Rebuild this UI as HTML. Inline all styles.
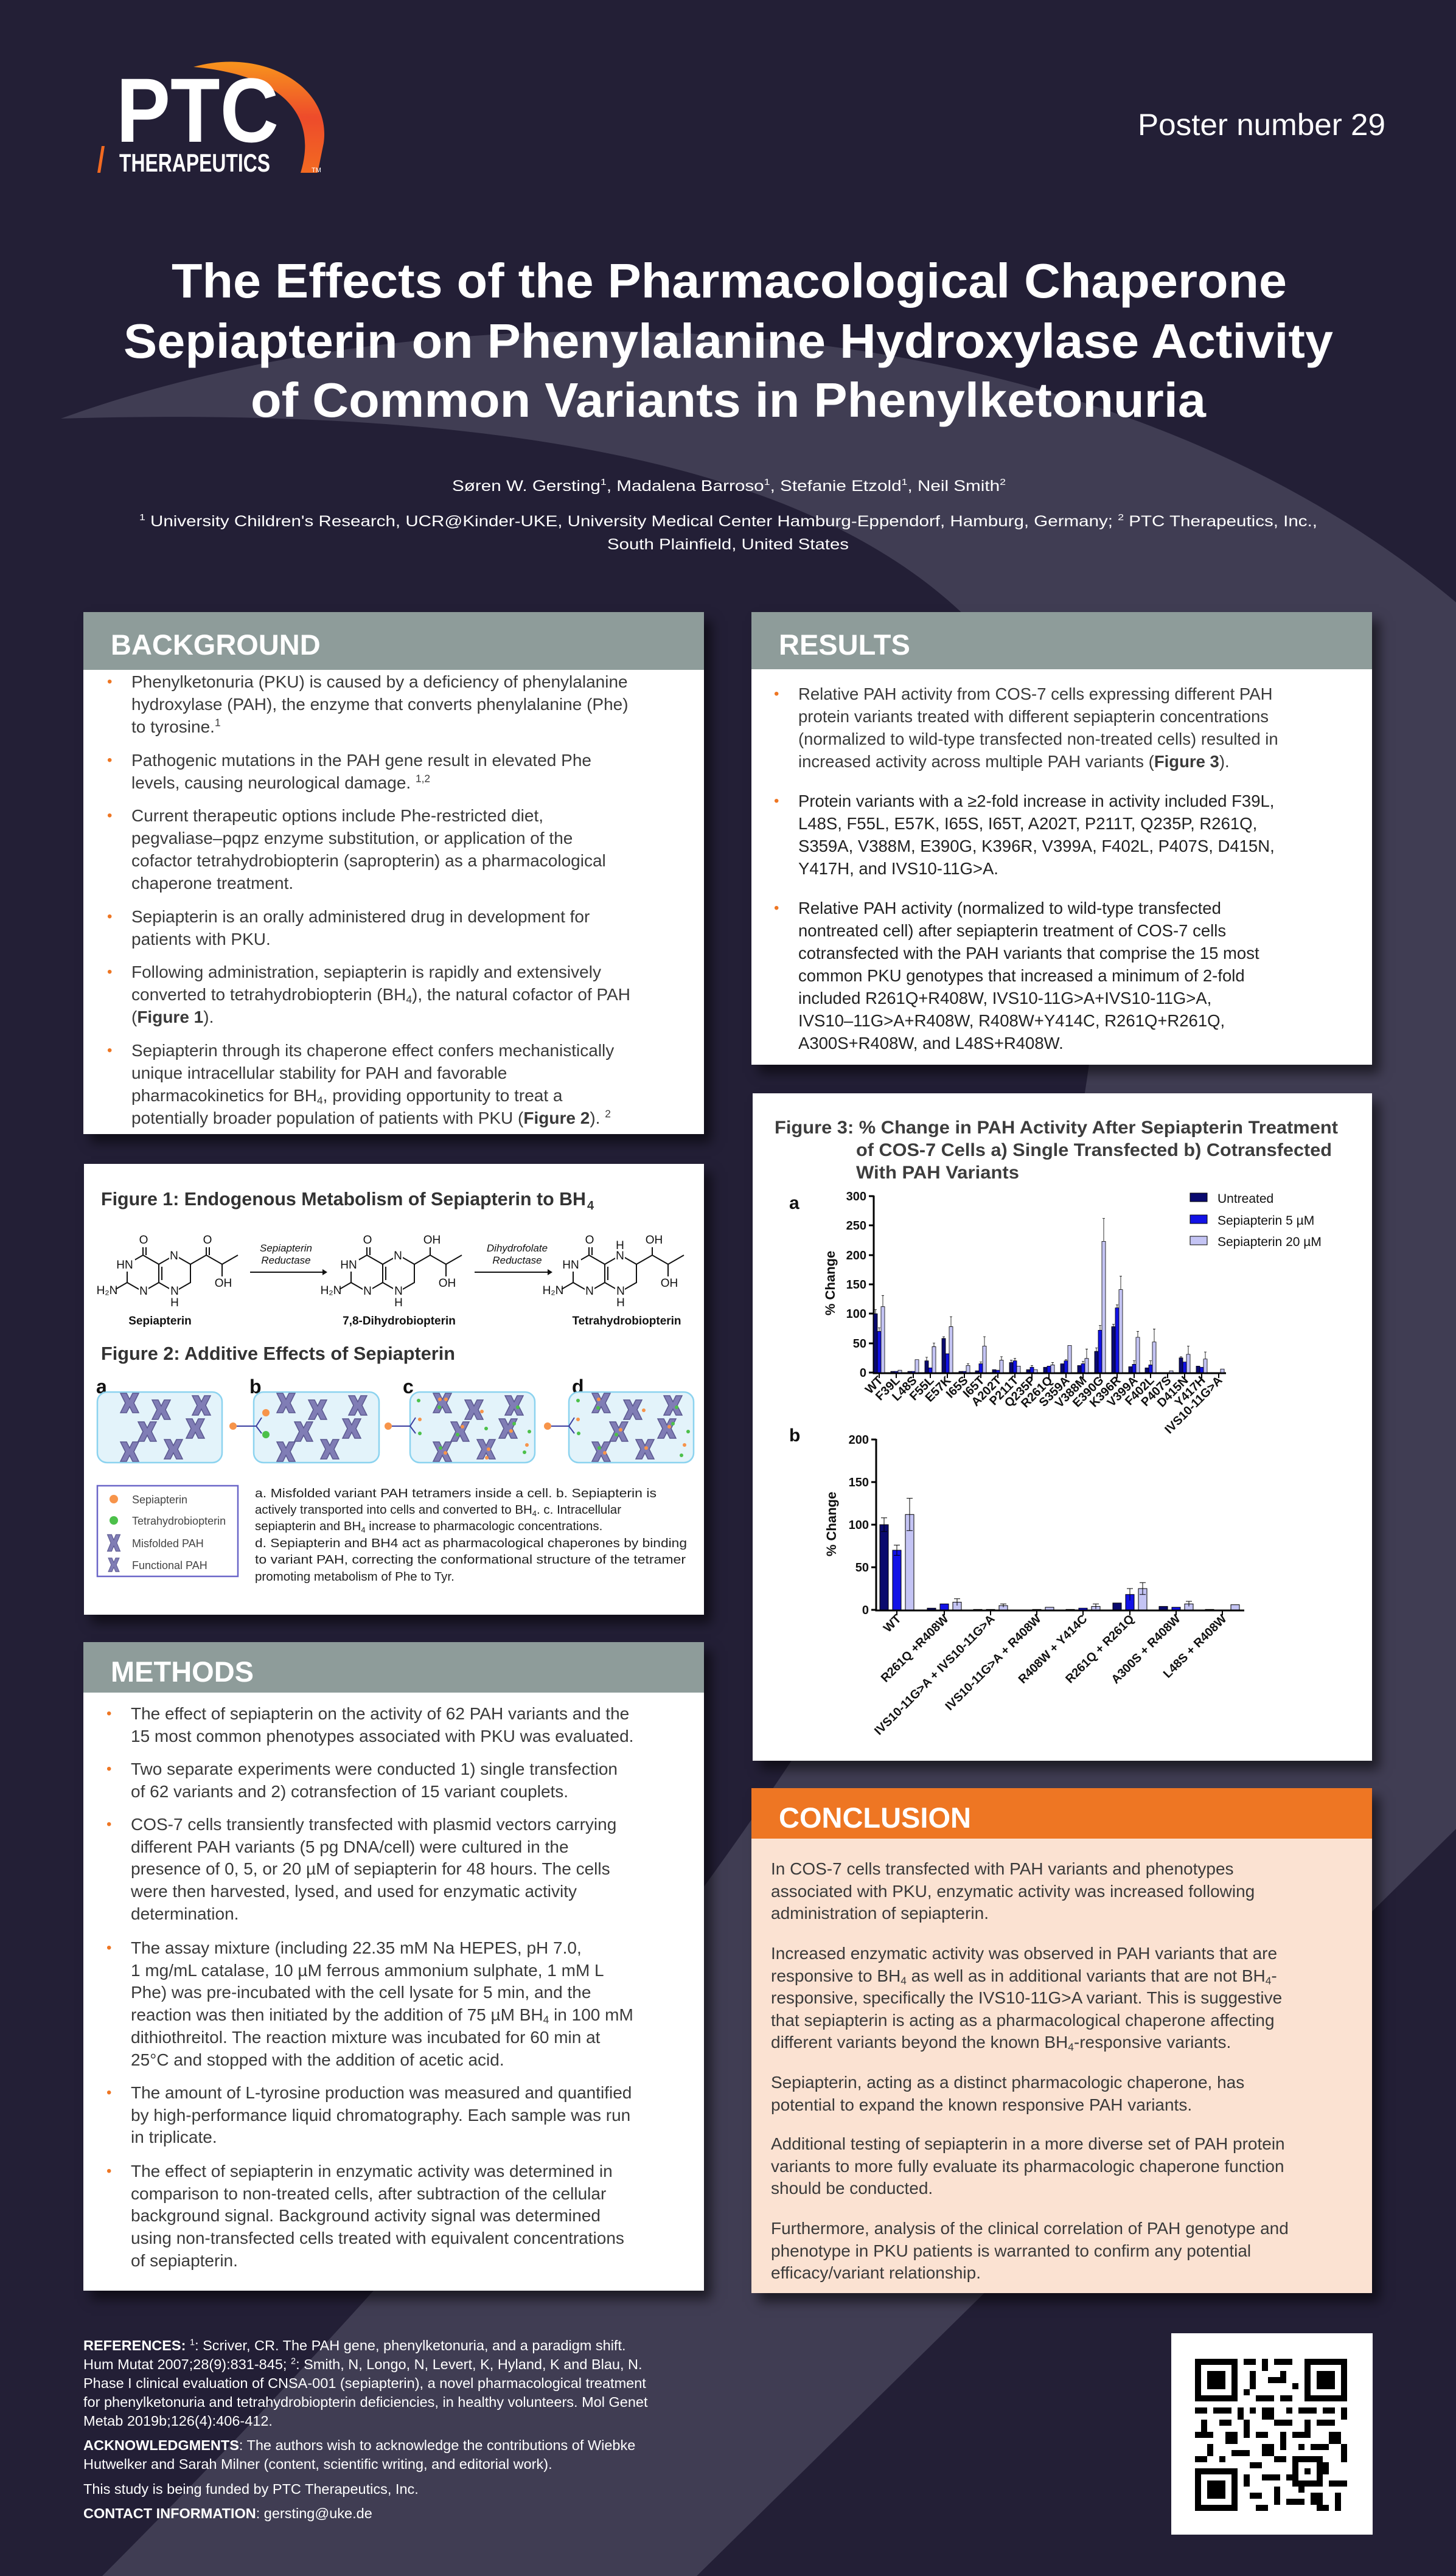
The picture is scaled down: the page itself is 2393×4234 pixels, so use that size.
<!DOCTYPE html>
<html><head><meta charset="utf-8">
<style>
*{margin:0;padding:0;box-sizing:border-box}
body{width:2393px;height:4234px;overflow:hidden;position:relative;background:#231f36;font-family:"Liberation Sans",Arial,sans-serif}
.abs{position:absolute}
.panel{position:absolute;background:#fff;box-shadow:12px 14px 18px rgba(0,0,0,0.55)}
.hdr{position:absolute;background:#8e9c9a;color:#fff;font-weight:bold;font-size:47px;line-height:1}
.hdr span{position:absolute;left:45px}
.p{position:absolute;font-size:28px;line-height:37px;color:#3a3a3a;white-space:nowrap}
.p::before{content:"•";color:#ee7623;position:absolute;left:-40px;top:0;font-size:24px}
.np::before{content:none}
sub{font-size:0.62em;vertical-align:-0.25em;line-height:0}
sup{font-size:0.62em;vertical-align:0.6em;line-height:0}
.ref{position:absolute;left:137px;font-size:23.5px;line-height:31px;color:#fff;white-space:nowrap}
</style></head><body>

<svg class="abs" style="left:0;top:0" width="2393" height="4234">
<path d="M100,688 C700,470 1750,450 2393,990 L2393,3006 L1145,4234 L168,4234 C900,3500 1850,2400 1800,1500 C1760,1000 1400,650 100,688 Z" fill="#403d53"/>
</svg>

<!-- BACKGROUND -->
<div class="panel" style="left:137px;top:1006px;width:1020px;height:858px"></div>
<div class="hdr" style="left:137px;top:1006px;width:1020px;height:95px"><span style="top:30px">BACKGROUND</span></div>
<div class="p" style="left:216px;top:1102px">Phenylketonuria (PKU) is caused by a deficiency of phenylalanine<br>hydroxylase (PAH), the enzyme that converts phenylalanine (Phe)<br>to tyrosine.<sup>1</sup></div>
<div class="p" style="left:216px;top:1231px">Pathogenic mutations in the PAH gene result in elevated Phe<br>levels, causing neurological damage. <sup>1,2</sup></div>
<div class="p" style="left:216px;top:1322px">Current therapeutic options include Phe-restricted diet,<br>pegvaliase–pqpz enzyme substitution, or application of the<br>cofactor tetrahydrobiopterin (sapropterin) as a pharmacological<br>chaperone treatment.</div>
<div class="p" style="left:216px;top:1488px">Sepiapterin is an orally administered drug in development for<br>patients with PKU.</div>
<div class="p" style="left:216px;top:1579px">Following administration, sepiapterin is rapidly and extensively<br>converted to tetrahydrobiopterin (BH<sub>4</sub>), the natural cofactor of PAH<br>(<b>Figure 1</b>).</div>
<div class="p" style="left:216px;top:1708px">Sepiapterin through its chaperone effect confers mechanistically<br>unique intracellular stability for PAH and favorable<br>pharmacokinetics for BH<sub>4</sub>, providing opportunity to treat a<br>potentially broader population of patients with PKU (<b>Figure 2</b>). <sup>2</sup></div>

<!-- RESULTS -->
<div class="panel" style="left:1235px;top:1006px;width:1020px;height:744px"></div>
<div class="hdr" style="left:1235px;top:1006px;width:1020px;height:94px"><span style="top:30px">RESULTS</span></div>
<div class="p" style="left:1312px;top:1122px;font-size:27.5px">Relative PAH activity from COS-7 cells expressing different PAH<br>protein variants treated with different sepiapterin concentrations<br>(normalized to wild-type transfected non-treated cells) resulted in<br>increased activity across multiple PAH variants (<b>Figure 3</b>).</div>
<div class="p" style="left:1312px;top:1298px;font-size:27.5px;color:#222">Protein variants with a ≥2-fold increase in activity included F39L,<br>L48S, F55L, E57K, I65S, I65T, A202T, P211T, Q235P, R261Q,<br>S359A, V388M, E390G, K396R, V399A, F402L, P407S, D415N,<br>Y417H, and IVS10-11G&gt;A.</div>
<div class="p" style="left:1312px;top:1474px;font-size:27.5px;color:#222">Relative PAH activity (normalized to wild-type transfected<br>nontreated cell) after sepiapterin treatment of COS-7 cells<br>cotransfected with the PAH variants that comprise the 15 most<br>common PKU genotypes that increased a minimum of 2-fold<br>included R261Q+R408W, IVS10-11G&gt;A+IVS10-11G&gt;A,<br>IVS10–11G&gt;A+R408W, R408W+Y414C, R261Q+R261Q,<br>A300S+R408W, and L48S+R408W.</div>

<!-- FIG 1/2 panel -->
<div class="panel" style="left:138px;top:1913px;width:1019px;height:741px"></div>
<!-- FIG 3 panel -->
<div class="panel" style="left:1237px;top:1797px;width:1018px;height:1097px"></div>

<!-- METHODS -->
<div class="panel" style="left:137px;top:2699px;width:1020px;height:1066px"></div>
<div class="hdr" style="left:137px;top:2699px;width:1020px;height:83px"><span style="top:25px">METHODS</span></div>
<div class="p" style="left:215px;top:2799px;line-height:36.7px">The effect of sepiapterin on the activity of 62 PAH variants and the<br>15 most common phenotypes associated with PKU was evaluated.</div>
<div class="p" style="left:215px;top:2890px;line-height:36.7px">Two separate experiments were conducted 1) single transfection<br>of 62 variants and 2) cotransfection of 15 variant couplets.</div>
<div class="p" style="left:215px;top:2981px;line-height:36.7px">COS-7 cells transiently transfected with plasmid vectors carrying<br>different PAH variants (5 pg DNA/cell) were cultured in the<br>presence of 0, 5, or 20 µM of sepiapterin for 48 hours. The cells<br>were then harvested, lysed, and used for enzymatic activity<br>determination.</div>
<div class="p" style="left:215px;top:3184px;line-height:36.7px">The assay mixture (including 22.35 mM Na HEPES, pH 7.0,<br>1 mg/mL catalase, 10 µM ferrous ammonium sulphate, 1 mM L<br>Phe) was pre-incubated with the cell lysate for 5 min, and the<br>reaction was then initiated by the addition of 75 µM BH<sub>4</sub> in 100 mM<br>dithiothreitol. The reaction mixture was incubated for 60 min at<br>25°C and stopped with the addition of acetic acid.</div>
<div class="p" style="left:215px;top:3422px;line-height:36.7px">The amount of L-tyrosine production was measured and quantified<br>by high-performance liquid chromatography. Each sample was run<br>in triplicate.</div>
<div class="p" style="left:215px;top:3551px;line-height:36.7px">The effect of sepiapterin in enzymatic activity was determined in<br>comparison to non-treated cells, after subtraction of the cellular<br>background signal. Background activity signal was determined<br>using non-transfected cells treated with equivalent concentrations<br>of sepiapterin.</div>

<!-- CONCLUSION -->
<div class="panel" style="left:1235px;top:2939px;width:1020px;height:830px;background:#fbe2d2"></div>
<div class="hdr" style="left:1235px;top:2939px;width:1020px;height:83px;background:#ee7623"><span style="top:25px">CONCLUSION</span></div>
<div class="p np" style="left:1267px;top:3054px;line-height:36.5px">In COS-7 cells transfected with PAH variants and phenotypes<br>associated with PKU, enzymatic activity was increased following<br>administration of sepiapterin.</div>
<div class="p np" style="left:1267px;top:3193px;line-height:36.5px">Increased enzymatic activity was observed in PAH variants that are<br>responsive to BH<sub>4</sub> as well as in additional variants that are not BH<sub>4</sub>-<br>responsive, specifically the IVS10-11G&gt;A variant. This is suggestive<br>that sepiapterin is acting as a pharmacological chaperone affecting<br>different variants beyond the known BH<sub>4</sub>-responsive variants.</div>
<div class="p np" style="left:1267px;top:3405px;line-height:36.5px">Sepiapterin, acting as a distinct pharmacologic chaperone, has<br>potential to expand the known responsive PAH variants.</div>
<div class="p np" style="left:1267px;top:3506px;line-height:36.5px">Additional testing of sepiapterin in a more diverse set of PAH protein<br>variants to more fully evaluate its pharmacologic chaperone function<br>should be conducted.</div>
<div class="p np" style="left:1267px;top:3645px;line-height:36.5px">Furthermore, analysis of the clinical correlation of PAH genotype and<br>phenotype in PKU patients is warranted to confirm any potential<br>efficacy/variant relationship.</div>

<!-- REFERENCES -->
<div class="ref" style="top:3840px"><b>REFERENCES:</b> <sup>1</sup>: Scriver, CR. The PAH gene, phenylketonuria, and a paradigm shift.<br>Hum Mutat 2007;28(9):831-845; <sup>2</sup>: Smith, N, Longo, N, Levert, K, Hyland, K and Blau, N.<br>Phase I clinical evaluation of CNSA-001 (sepiapterin), a novel pharmacological treatment<br>for phenylketonuria and tetrahydrobiopterin deficiencies, in healthy volunteers. Mol Genet<br>Metab 2019b;126(4):406-412.</div>
<div class="ref" style="top:4004px"><b>ACKNOWLEDGMENTS</b>: The authors wish to acknowledge the contributions of Wiebke<br>Hutwelker and Sarah Milner (content, scientific writing, and editorial work).</div>
<div class="ref" style="top:4076px">This study is being funded by PTC Therapeutics, Inc.</div>
<div class="ref" style="top:4116px"><b>CONTACT INFORMATION</b>: gersting@uke.de</div>

<!-- OVERLAY -->
<svg class="abs" style="left:0;top:0" width="2393" height="4234" font-family="Liberation Sans, Arial, sans-serif">
<defs>
<linearGradient id="lg" x1="0" y1="0" x2="0" y2="1"><stop offset="0" stop-color="#f7941d"/><stop offset="0.5" stop-color="#ee4b2b"/><stop offset="1" stop-color="#f26a21"/></linearGradient>
<path id="xs" d="M-15,-16 L-5,-16 L0,-6 L5,-16 L15,-16 L7,0 L15,16 L5,16 L0,6 L-5,16 L-15,16 L-7,0 Z" fill="#807db5" stroke="#5b5890" stroke-width="1.5"/>
</defs>
<!-- logo -->
<path d="M318,110 C430,78 545,140 532,235 L522,284 L494,284 C520,200 480,125 318,110 Z" fill="url(#lg)"/>
<path d="M160,284 L167,240 L172,240 L165,284 Z" fill="#f26a21"/>
<text x="191" y="233" font-size="150" font-weight="bold" fill="#fff" textLength="267" lengthAdjust="spacingAndGlyphs">PTC</text>
<text x="196" y="282" font-size="42" font-weight="bold" fill="#fff" textLength="248" lengthAdjust="spacingAndGlyphs">THERAPEUTICS</text>
<text x="512" y="283" font-size="11" fill="#fff">TM</text>
<text x="1870" y="222" font-size="50" fill="#fff" textLength="407" lengthAdjust="spacingAndGlyphs">Poster number 29</text>
<!-- title -->
<g font-weight="bold" fill="#fff" font-size="80">
<text x="282" y="489" textLength="1833" lengthAdjust="spacingAndGlyphs">The Effects of the Pharmacological Chaperone</text>
<text x="203" y="588" textLength="1988" lengthAdjust="spacingAndGlyphs">Sepiapterin on Phenylalanine Hydroxylase Activity</text>
<text x="412" y="685" textLength="1570" lengthAdjust="spacingAndGlyphs">of Common Variants in Phenylketonuria</text>
</g>
<g fill="#fff" font-size="25">
<text x="743" y="807" textLength="910" lengthAdjust="spacingAndGlyphs">Søren W. Gersting<tspan font-size="15" dy="-10">1</tspan><tspan dy="10">, Madalena Barroso</tspan><tspan font-size="15" dy="-10">1</tspan><tspan dy="10">, Stefanie Etzold</tspan><tspan font-size="15" dy="-10">1</tspan><tspan dy="10">, Neil Smith</tspan><tspan font-size="15" dy="-10">2</tspan></text>
<text x="229" y="865" textLength="1936" lengthAdjust="spacingAndGlyphs"><tspan font-size="15" dy="-10">1</tspan><tspan dy="10"> University Children's Research, UCR@Kinder-UKE, University Medical Center Hamburg-Eppendorf, Hamburg, Germany; </tspan><tspan font-size="15" dy="-10">2</tspan><tspan dy="10"> PTC Therapeutics, Inc.,</tspan></text>
<text x="998" y="903" textLength="397" lengthAdjust="spacingAndGlyphs">South Plainfield, United States</text>
</g>

<!-- FIGURE 1 -->
<g fill="#333" font-weight="bold">
<text x="166" y="1981" font-size="31" textLength="797" lengthAdjust="spacingAndGlyphs">Figure 1: Endogenous Metabolism of Sepiapterin to BH</text><text x="965" y="1988" font-size="20">4</text>
<text x="166" y="2235" font-size="31" textLength="582" lengthAdjust="spacingAndGlyphs">Figure 2: Additive Effects of Sepiapterin</text>
</g>
<!-- structures -->
<g stroke="#111" stroke-width="2" fill="none">
 <g id="s1">
 <path d="M235,2063 L261,2078 L261,2108 L235,2123 L209,2108 L209,2078 Z M261,2078 L287,2063 L313,2078 L313,2108 L287,2123 L261,2108 M235,2063 L235,2042 M240,2063 L240,2042 M209,2108 L190,2119 M266,2082 L266,2104 M313,2078 L339,2063 L365,2078 L391,2063 M339,2063 L339,2042 M344,2063 L344,2042 M365,2078 L365,2098"/>
 </g>
 <path transform="translate(368,0)" d="M235,2063 L261,2078 L261,2108 L235,2123 L209,2108 L209,2078 Z M261,2078 L287,2063 L313,2078 L313,2108 L287,2123 L261,2108 M235,2063 L235,2042 M240,2063 L240,2042 M209,2108 L190,2119 M266,2082 L266,2104 M313,2078 L339,2063 L365,2078 L391,2063 M339,2063 L339,2042 M365,2078 L365,2098"/>
 <path transform="translate(733,0)" d="M235,2063 L261,2078 L261,2108 L235,2123 L209,2108 L209,2078 Z M261,2078 L287,2063 L313,2078 L313,2108 L287,2123 L261,2108 M235,2063 L235,2042 M240,2063 L240,2042 M209,2108 L190,2119 M266,2082 L266,2104 M313,2078 L339,2063 L365,2078 L391,2063 M339,2063 L339,2042 M365,2078 L365,2098"/>
 <path d="M411,2091 L530,2091 M780,2091 L900,2091"/>
</g>
<path d="M530,2086 L538,2091 L530,2096 Z M900,2086 L908,2091 L900,2096 Z" fill="#111"/>
<g font-size="19" fill="#111" text-anchor="middle">
 <g>
 <rect x="227" y="2030" width="18" height="20" fill="#fff"/><text x="236" y="2044">O</text>
 <rect x="198" y="2070" width="24" height="20" fill="#fff"/><text x="205" y="2085">HN</text>
 <rect x="278" y="2055" width="16" height="18" fill="#fff"/><text x="286" y="2070">N</text>
 <rect x="228" y="2112" width="16" height="20" fill="#fff"/><text x="236" y="2128">N</text>
 <rect x="278" y="2112" width="16" height="20" fill="#fff"/><text x="287" y="2128">N</text><text x="287" y="2147">H</text>
 <text x="176" y="2127">H₂N</text>
 <rect x="332" y="2030" width="18" height="20" fill="#fff"/><text x="341" y="2044">O</text>
 <text x="367" y="2115">OH</text>
 </g>
 <g transform="translate(368,0)">
 <rect x="227" y="2030" width="18" height="20" fill="#fff"/><text x="236" y="2044">O</text>
 <rect x="198" y="2070" width="24" height="20" fill="#fff"/><text x="205" y="2085">HN</text>
 <rect x="278" y="2055" width="16" height="18" fill="#fff"/><text x="286" y="2070">N</text>
 <rect x="228" y="2112" width="16" height="20" fill="#fff"/><text x="236" y="2128">N</text>
 <rect x="278" y="2112" width="16" height="20" fill="#fff"/><text x="287" y="2128">N</text><text x="287" y="2147">H</text>
 <text x="176" y="2127">H₂N</text>
 <rect x="330" y="2030" width="26" height="20" fill="#fff"/><text x="342" y="2044">OH</text>
 <text x="367" y="2115">OH</text>
 </g>
 <g transform="translate(733,0)">
 <rect x="227" y="2030" width="18" height="20" fill="#fff"/><text x="236" y="2044">O</text>
 <rect x="198" y="2070" width="24" height="20" fill="#fff"/><text x="205" y="2085">HN</text>
 <rect x="278" y="2048" width="16" height="26" fill="#fff"/><text x="286" y="2070">N</text><text x="286" y="2053">H</text>
 <rect x="228" y="2112" width="16" height="20" fill="#fff"/><text x="236" y="2128">N</text>
 <rect x="278" y="2112" width="16" height="20" fill="#fff"/><text x="287" y="2128">N</text><text x="287" y="2147">H</text>
 <text x="176" y="2127">H₂N</text>
 <rect x="330" y="2030" width="26" height="20" fill="#fff"/><text x="342" y="2044">OH</text>
 <text x="367" y="2115">OH</text>
 </g>
 <g font-style="italic" font-size="17">
 <text x="470" y="2057">Sepiapterin</text><text x="470" y="2077">Reductase</text>
 <text x="850" y="2057">Dihydrofolate</text><text x="850" y="2077">Reductase</text>
 </g>
 <g font-weight="bold" font-size="19">
 <text x="263" y="2177">Sepiapterin</text>
 <text x="656" y="2177">7,8-Dihydrobiopterin</text>
 <text x="1030" y="2177">Tetrahydrobiopterin</text>
 </g>
</g>

<!-- FIGURE 2 cells -->
<g font-weight="bold" font-size="32" fill="#111">
<text x="158" y="2290">a</text><text x="410" y="2290">b</text><text x="662" y="2290">c</text><text x="940" y="2290">d</text>
</g>
<g fill="#e3f3fa" stroke="#8cd3ef" stroke-width="2.5">
<rect x="160" y="2288" width="205" height="116" rx="16"/>
<rect x="417" y="2288" width="206" height="116" rx="16"/>
<rect x="674" y="2288" width="205" height="116" rx="16"/>
<rect x="935" y="2288" width="205" height="116" rx="16"/>
</g>
<g>
<use href="#xs" x="213" y="2306"/><use href="#xs" x="265" y="2317"/><use href="#xs" x="331" y="2310"/><use href="#xs" x="242" y="2353"/><use href="#xs" x="321" y="2348"/><use href="#xs" x="213" y="2386"/><use href="#xs" x="285" y="2382"/>
<use href="#xs" x="470" y="2306"/><use href="#xs" x="522" y="2317"/><use href="#xs" x="588" y="2310"/><use href="#xs" x="499" y="2353"/><use href="#xs" x="578" y="2348"/><use href="#xs" x="470" y="2386"/><use href="#xs" x="542" y="2382"/>
<use href="#xs" x="727" y="2306"/><use href="#xs" x="779" y="2317"/><use href="#xs" x="845" y="2310"/><use href="#xs" x="756" y="2353"/><use href="#xs" x="835" y="2348"/><use href="#xs" x="727" y="2386"/><use href="#xs" x="799" y="2382"/>
<use href="#xs" x="988" y="2306"/><use href="#xs" x="1040" y="2317"/><use href="#xs" x="1106" y="2310"/><use href="#xs" x="1017" y="2353"/><use href="#xs" x="1096" y="2348"/><use href="#xs" x="988" y="2386"/><use href="#xs" x="1060" y="2382"/>
</g>
<g fill="#f7944a">
<circle cx="383" cy="2344" r="6"/><circle cx="437" cy="2322" r="6"/><circle cx="638" cy="2344" r="6"/><circle cx="900" cy="2344" r="6"/>
<circle cx="723" cy="2300" r="3"/><circle cx="733" cy="2300" r="3"/><circle cx="760" cy="2345" r="3"/><circle cx="840" cy="2352" r="3"/><circle cx="792" cy="2320" r="3"/><circle cx="800" cy="2396" r="3"/><circle cx="803" cy="2382" r="3"/><circle cx="732" cy="2388" r="3"/><circle cx="866" cy="2375" r="3"/><circle cx="690" cy="2333" r="3"/>
<circle cx="984" cy="2300" r="3"/><circle cx="1020" cy="2350" r="3"/><circle cx="1100" cy="2345" r="3"/><circle cx="1062" cy="2380" r="3"/><circle cx="1058" cy="2318" r="3"/><circle cx="1125" cy="2375" r="3"/><circle cx="994" cy="2388" r="3"/><circle cx="950" cy="2333" r="3"/>
</g>
<g fill="#4cc04a">
<circle cx="437" cy="2358" r="6"/>
<circle cx="688" cy="2302" r="3"/><circle cx="722" cy="2313" r="3"/><circle cx="752" cy="2358" r="3"/><circle cx="845" cy="2340" r="3"/><circle cx="851" cy="2313" r="3"/><circle cx="870" cy="2353" r="3"/><circle cx="862" cy="2387" r="3"/><circle cx="724" cy="2380" r="3"/><circle cx="690" cy="2356" r="3"/><circle cx="799" cy="2348" r="3"/>
<circle cx="950" cy="2302" r="3"/><circle cx="983" cy="2314" r="3"/><circle cx="1013" cy="2358" r="3"/><circle cx="1106" cy="2340" r="3"/><circle cx="1112" cy="2313" r="3"/><circle cx="1131" cy="2353" r="3"/><circle cx="1120" cy="2392" r="3"/><circle cx="985" cy="2380" r="3"/><circle cx="951" cy="2356" r="3"/>
</g>
<g stroke="#3b3fa0" stroke-width="2" fill="none">
<path d="M389,2344 L421,2344 L430,2330 M421,2344 L430,2356"/>
<path d="M644,2344 L674,2344 L683,2330 M674,2344 L683,2356"/>
<path d="M906,2344 L935,2344 L944,2330 M935,2344 L944,2356"/>
</g>
<!-- legend box -->
<rect x="160" y="2442" width="231" height="149" fill="#fff" stroke="#6a66c8" stroke-width="2.5"/>
<circle cx="187" cy="2464" r="7" fill="#f7944a"/><circle cx="187" cy="2499" r="7" fill="#4cc04a"/>
<use href="#xs" transform="translate(187,2536) scale(0.7,0.85)"/><use href="#xs" transform="translate(187,2572) scale(0.6,0.7)"/>
<g font-size="18" fill="#444">
<text x="217" y="2471">Sepiapterin</text><text x="217" y="2506">Tetrahydrobiopterin</text><text x="217" y="2543">Misfolded PAH</text><text x="217" y="2579">Functional PAH</text>
</g>
<g font-size="20.5" fill="#222">
<text x="419" y="2461" textLength="660" lengthAdjust="spacingAndGlyphs">a. Misfolded variant PAH tetramers inside a cell. b. Sepiapterin is</text>
<text x="419" y="2488">actively transported into cells and converted to BH<tspan font-size="13" dy="4">4</tspan><tspan dy="-4">. c. Intracellular</tspan></text>
<text x="419" y="2515">sepiapterin and BH<tspan font-size="13" dy="4">4</tspan><tspan dy="-4"> increase to pharmacologic concentrations.</tspan></text>
<text x="419" y="2543" textLength="710" lengthAdjust="spacingAndGlyphs">d. Sepiapterin and BH4 act as pharmacological chaperones by binding</text>
<text x="419" y="2570" textLength="708" lengthAdjust="spacingAndGlyphs">to variant PAH, correcting the conformational structure of the tetramer</text>
<text x="419" y="2598">promoting metabolism of Phe to Tyr.</text>
</g>

<!-- FIGURE 3 -->
<g fill="#3d3d3d" font-weight="bold" font-size="30">
<text x="1273" y="1863" textLength="926" lengthAdjust="spacingAndGlyphs">Figure 3: % Change in PAH Activity After Sepiapterin Treatment</text>
<text x="1407" y="1900" textLength="782" lengthAdjust="spacingAndGlyphs">of COS-7 Cells a) Single Transfected b) Cotransfected</text>
<text x="1407" y="1937" textLength="268" lengthAdjust="spacingAndGlyphs">With PAH Variants</text>
</g>
<g font-weight="bold" font-size="30" fill="#111"><text x="1297" y="1987">a</text><text x="1297" y="2369">b</text></g>
<!-- legend -->
<g stroke="#000" stroke-width="1">
<rect x="1956" y="1961" width="28" height="14" fill="#0a0a6e"/>
<rect x="1956" y="1997" width="28" height="14" fill="#1212e6"/>
<rect x="1956" y="2032" width="28" height="14" fill="#c4c4f4"/>
</g>
<g font-size="21" fill="#111"><text x="2001" y="1977">Untreated</text><text x="2001" y="2013">Sepiapterin 5 µM</text><text x="2001" y="2048">Sepiapterin 20 µM</text></g>

<!-- chart a axes -->
<g stroke="#000" stroke-width="3" fill="none">
<path d="M1436,1965 L1436,2257 L2015,2257"/>
<path d="M1428,1966 H1436 M1428,2014 H1436 M1428,2063 H1436 M1428,2111 H1436 M1428,2159 H1436 M1428,2208 H1436 M1428,2256 H1436"/>
<path d="M1445,2256 v9 M1473,2256 v9 M1501,2256 v9 M1529,2256 v9 M1557,2256 v9 M1585,2256 v9 M1612,2256 v9 M1640,2256 v9 M1668,2256 v9 M1696,2256 v9 M1724,2256 v9 M1752,2256 v9 M1780,2256 v9 M1808,2256 v9 M1836,2256 v9 M1864,2256 v9 M1891,2256 v9 M1919,2256 v9 M1947,2256 v9 M1975,2256 v9 M2003,2256 v9" stroke-width="2"/>
</g>
<g font-size="20" font-weight="bold" text-anchor="end" fill="#111">
<text x="1424" y="1973">300</text><text x="1424" y="2021">250</text><text x="1424" y="2070">200</text><text x="1424" y="2118">150</text><text x="1424" y="2166">100</text><text x="1424" y="2215">50</text><text x="1424" y="2263">0</text>
</g>
<text transform="translate(1372,2109) rotate(-90)" text-anchor="middle" font-size="22" font-weight="bold" fill="#111">% Change</text>
<g transform="translate(0,2256) scale(1,-0.967)" stroke="#000" stroke-width="0.8">
<g fill="#0a0a6e">
<rect x="1436" y="0" width="6" height="100" vector-effect="non-scaling-stroke"/>
<rect x="1464" y="0" width="6" height="2"/>
<rect x="1492" y="0" width="6" height="2"/>
<rect x="1520" y="0" width="6" height="20" vector-effect="non-scaling-stroke"/>
<rect x="1548" y="0" width="6" height="58" vector-effect="non-scaling-stroke"/>
<rect x="1576" y="0" width="6" height="2"/>
<rect x="1603" y="0" width="6" height="3"/>
<rect x="1631" y="0" width="6" height="5"/>
<rect x="1659" y="0" width="6" height="17" vector-effect="non-scaling-stroke"/>
<rect x="1687" y="0" width="6" height="5"/>
<rect x="1715" y="0" width="6" height="9" vector-effect="non-scaling-stroke"/>
<rect x="1743" y="0" width="6" height="15" vector-effect="non-scaling-stroke"/>
<rect x="1771" y="0" width="6" height="12" vector-effect="non-scaling-stroke"/>
<rect x="1799" y="0" width="6" height="36" vector-effect="non-scaling-stroke"/>
<rect x="1827" y="0" width="6" height="78" vector-effect="non-scaling-stroke"/>
<rect x="1855" y="0" width="6" height="10" vector-effect="non-scaling-stroke"/>
<rect x="1882" y="0" width="6" height="8" vector-effect="non-scaling-stroke"/>
<rect x="1938" y="0" width="6" height="25" vector-effect="non-scaling-stroke"/>
<rect x="1966" y="0" width="6" height="11" vector-effect="non-scaling-stroke"/>
</g>
<g fill="#1212e6">
<rect x="1442" y="0" width="6" height="70" vector-effect="non-scaling-stroke"/>
<rect x="1470" y="0" width="6" height="2"/>
<rect x="1498" y="0" width="6" height="2"/>
<rect x="1526" y="0" width="6" height="8" vector-effect="non-scaling-stroke"/>
<rect x="1554" y="0" width="6" height="32" vector-effect="non-scaling-stroke"/>
<rect x="1582" y="0" width="6" height="2"/>
<rect x="1609" y="0" width="6" height="15" vector-effect="non-scaling-stroke"/>
<rect x="1637" y="0" width="6" height="4"/>
<rect x="1665" y="0" width="6" height="20" vector-effect="non-scaling-stroke"/>
<rect x="1693" y="0" width="6" height="9" vector-effect="non-scaling-stroke"/>
<rect x="1721" y="0" width="6" height="11" vector-effect="non-scaling-stroke"/>
<rect x="1749" y="0" width="6" height="20" vector-effect="non-scaling-stroke"/>
<rect x="1777" y="0" width="6" height="15" vector-effect="non-scaling-stroke"/>
<rect x="1805" y="0" width="6" height="72" vector-effect="non-scaling-stroke"/>
<rect x="1833" y="0" width="6" height="110" vector-effect="non-scaling-stroke"/>
<rect x="1861" y="0" width="6" height="14" vector-effect="non-scaling-stroke"/>
<rect x="1888" y="0" width="6" height="13" vector-effect="non-scaling-stroke"/>
<rect x="1944" y="0" width="6" height="18" vector-effect="non-scaling-stroke"/>
<rect x="1972" y="0" width="6" height="9" vector-effect="non-scaling-stroke"/>
</g>
<g fill="#c4c4f4" vector-effect="non-scaling-stroke">
<rect x="1448" y="0" width="6" height="112" vector-effect="non-scaling-stroke"/>
<rect x="1476" y="0" width="6" height="4"/>
<rect x="1504" y="0" width="6" height="22" vector-effect="non-scaling-stroke"/>
<rect x="1532" y="0" width="6" height="44" vector-effect="non-scaling-stroke"/>
<rect x="1560" y="0" width="6" height="78" vector-effect="non-scaling-stroke"/>
<rect x="1588" y="0" width="6" height="12" vector-effect="non-scaling-stroke"/>
<rect x="1615" y="0" width="6" height="45" vector-effect="non-scaling-stroke"/>
<rect x="1643" y="0" width="6" height="21" vector-effect="non-scaling-stroke"/>
<rect x="1671" y="0" width="6" height="11" vector-effect="non-scaling-stroke"/>
<rect x="1699" y="0" width="6" height="5"/>
<rect x="1727" y="0" width="6" height="13" vector-effect="non-scaling-stroke"/>
<rect x="1755" y="0" width="6" height="46" vector-effect="non-scaling-stroke"/>
<rect x="1783" y="0" width="6" height="24" vector-effect="non-scaling-stroke"/>
<rect x="1811" y="0" width="6" height="223" vector-effect="non-scaling-stroke"/>
<rect x="1839" y="0" width="6" height="141" vector-effect="non-scaling-stroke"/>
<rect x="1867" y="0" width="6" height="60" vector-effect="non-scaling-stroke"/>
<rect x="1894" y="0" width="6" height="52" vector-effect="non-scaling-stroke"/>
<rect x="1922" y="0" width="6" height="3"/>
<rect x="1950" y="0" width="6" height="31" vector-effect="non-scaling-stroke"/>
<rect x="1978" y="0" width="6" height="23" vector-effect="non-scaling-stroke"/>
<rect x="2006" y="0" width="6" height="6"/>
</g>
<g fill="none" vector-effect="non-scaling-stroke">
<path vector-effect="non-scaling-stroke" d="M1439,100 v7 m-2,0 h4 M1445,70 v6 m-2,0 h4 M1451,112 v19 m-2,0 h4 M1523,20 v6 m-2,0 h4 M1535,44 v6 m-2,0 h4 M1551,58 v3 m-2,0 h4 M1563,78 v17 m-2,0 h4 M1618,45 v16 m-2,0 h4 M1612,15 v3 m-2,0 h4 M1646,21 v6 m-2,0 h4 M1662,17 v4 m-2,0 h4 M1668,20 v4 m-2,0 h4 M1696,9 v3 m-2,0 h4 M1752,20 v2 m-2,0 h4 M1786,24 v16 m-2,0 h4 M1780,15 v4 m-2,0 h4 M1802,36 v6 m-2,0 h4 M1808,72 v8 m-2,0 h4 M1814,223 v39 m-2,0 h4 M1830,78 v4 m-2,0 h4 M1836,110 v5 m-2,0 h4 M1842,141 v23 m-2,0 h4 M1864,14 v6 m-2,0 h4 M1870,60 v10 m-2,0 h4 M1891,13 v7 m-2,0 h4 M1897,52 v22 m-2,0 h4 M1941,25 v2 m-2,0 h4 M1953,31 v14 m-2,0 h4 M1981,23 v12 m-2,0 h4 M1730,13 v4 m-2,0 h4 M1591,12 v3 m-2,0 h4"/>
</g>
</g>
<g font-size="20" font-weight="bold" text-anchor="end" fill="#111">
<text transform="translate(1452,2270) rotate(-45)">WT</text>
<text transform="translate(1480,2270) rotate(-45)">F39L</text>
<text transform="translate(1508,2270) rotate(-45)">L48S</text>
<text transform="translate(1536,2270) rotate(-45)">F55L</text>
<text transform="translate(1564,2270) rotate(-45)">E57K</text>
<text transform="translate(1592,2270) rotate(-45)">I65S</text>
<text transform="translate(1619,2270) rotate(-45)">I65T</text>
<text transform="translate(1647,2270) rotate(-45)">A202T</text>
<text transform="translate(1675,2270) rotate(-45)">P211T</text>
<text transform="translate(1703,2270) rotate(-45)">Q235P</text>
<text transform="translate(1731,2270) rotate(-45)">R261Q</text>
<text transform="translate(1759,2270) rotate(-45)">S359A</text>
<text transform="translate(1787,2270) rotate(-45)">V388M</text>
<text transform="translate(1815,2270) rotate(-45)">E390G</text>
<text transform="translate(1843,2270) rotate(-45)">K396R</text>
<text transform="translate(1871,2270) rotate(-45)">V399A</text>
<text transform="translate(1898,2270) rotate(-45)">F402L</text>
<text transform="translate(1926,2270) rotate(-45)">P407S</text>
<text transform="translate(1954,2270) rotate(-45)">D415N</text>
<text transform="translate(1982,2270) rotate(-45)">Y417H</text>
<text transform="translate(2010,2270) rotate(-45)">IVS10-11G&gt;A</text>
</g>

<!-- chart b -->
<g stroke="#000" stroke-width="3" fill="none">
<path d="M1440,2365 L1440,2647 L2045,2647"/>
<path d="M1432,2366 H1440 M1432,2436 H1440 M1432,2506 H1440 M1432,2576 H1440 M1432,2646 H1440"/>
<path d="M1474,2646 v9 M1552,2646 v9 M1628,2646 v9 M1704,2646 v9 M1780,2646 v9 M1857,2646 v9 M1933,2646 v9 M2009,2646 v9" stroke-width="2"/>
</g>
<g font-size="20" font-weight="bold" text-anchor="end" fill="#111">
<text x="1428" y="2373">200</text><text x="1428" y="2443">150</text><text x="1428" y="2513">100</text><text x="1428" y="2583">50</text><text x="1428" y="2653">0</text>
</g>
<text transform="translate(1374,2505) rotate(-90)" text-anchor="middle" font-size="22" font-weight="bold" fill="#111">% Change</text>
<g transform="translate(0,2646) scale(1,-1.4)" stroke="#000" stroke-width="1">
<g fill="#0a0a6e">
<rect vector-effect="non-scaling-stroke" x="1446" y="0" width="14" height="100"/>
<rect vector-effect="non-scaling-stroke" x="1524" y="0" width="14" height="2"/>
<rect vector-effect="non-scaling-stroke" x="1600" y="0" width="14" height="0.5"/>
<rect vector-effect="non-scaling-stroke" x="1752" y="0" width="14" height="0.5"/>
<rect vector-effect="non-scaling-stroke" x="1829" y="0" width="14" height="8"/>
<rect vector-effect="non-scaling-stroke" x="1905" y="0" width="14" height="4"/>
<rect vector-effect="non-scaling-stroke" x="1981" y="0" width="14" height="0.5"/>
</g>
<g fill="#1212e6">
<rect vector-effect="non-scaling-stroke" x="1467" y="0" width="14" height="70"/>
<rect vector-effect="non-scaling-stroke" x="1545" y="0" width="14" height="7"/>
<rect vector-effect="non-scaling-stroke" x="1621" y="0" width="14" height="0.5"/>
<rect vector-effect="non-scaling-stroke" x="1697" y="0" width="14" height="0.5"/>
<rect vector-effect="non-scaling-stroke" x="1773" y="0" width="14" height="2"/>
<rect vector-effect="non-scaling-stroke" x="1850" y="0" width="14" height="18"/>
<rect vector-effect="non-scaling-stroke" x="1926" y="0" width="14" height="3"/>
</g>
<g fill="#c4c4f4">
<rect vector-effect="non-scaling-stroke" x="1488" y="0" width="14" height="112"/>
<rect vector-effect="non-scaling-stroke" x="1566" y="0" width="14" height="9"/>
<rect vector-effect="non-scaling-stroke" x="1642" y="0" width="14" height="5"/>
<rect vector-effect="non-scaling-stroke" x="1718" y="0" width="14" height="3"/>
<rect vector-effect="non-scaling-stroke" x="1794" y="0" width="14" height="4"/>
<rect vector-effect="non-scaling-stroke" x="1871" y="0" width="14" height="25"/>
<rect vector-effect="non-scaling-stroke" x="1947" y="0" width="14" height="7"/>
<rect vector-effect="non-scaling-stroke" x="2023" y="0" width="14" height="6"/>
</g>
<path vector-effect="non-scaling-stroke" fill="none" d="M1453,92 v16 m-5,0 h10 m-10,-16 h10 M1474,64 v12 m-5,0 h10 m-10,-12 h10 M1495,93 v38 m-5,0 h10 m-10,-38 h10 M1573,5 v8 m-5,0 h10 M1857,11 v14 m-5,0 h10 M1878,18 v14 m-5,0 h10 m-10,-14 h10 M1801,1 v6 m-5,0 h10 M1954,4 v6 m-5,0 h10 M1649,3 v4 m-5,0 h10"/>
</g>
<g font-size="20" font-weight="bold" text-anchor="end" fill="#111">
<text transform="translate(1482,2662) rotate(-45)">WT</text>
<text transform="translate(1560,2662) rotate(-45)">R261Q +R408W</text>
<text transform="translate(1636,2662) rotate(-45)">IVS10-11G&gt;A + IVS10-11G&gt;A</text>
<text transform="translate(1712,2662) rotate(-45)">IVS10-11G&gt;A + R408W</text>
<text transform="translate(1788,2662) rotate(-45)">R408W + Y414C</text>
<text transform="translate(1865,2662) rotate(-45)">R261Q + R261Q</text>
<text transform="translate(1941,2662) rotate(-45)">A300S + R408W</text>
<text transform="translate(2017,2662) rotate(-45)">L48S + R408W</text>
</g>

<!-- QR -->
<rect x="1925" y="3835" width="331" height="331" fill="#fff"/>
<g transform="translate(1964,3877) scale(10)" fill="#000">
<rect x="0" y="0" width="7" height="7"/><rect x="1" y="1" width="5" height="5" fill="#fff"/><rect x="2" y="2" width="3" height="3"/>
<rect x="18" y="0" width="7" height="7"/><rect x="19" y="1" width="5" height="5" fill="#fff"/><rect x="20" y="2" width="3" height="3"/>
<rect x="0" y="18" width="7" height="7"/><rect x="1" y="19" width="5" height="5" fill="#fff"/><rect x="2" y="20" width="3" height="3"/>
<rect x="16" y="16" width="5" height="5"/><rect x="17" y="17" width="3" height="3" fill="#fff"/><rect x="18" y="18" width="1" height="1"/>
<rect x="8" y="0" width="2" height="1"/><rect x="11" y="0" width="1" height="2"/><rect x="13" y="0" width="3" height="1"/><rect x="9" y="2" width="1" height="3"/><rect x="12" y="3" width="2" height="1"/><rect x="14" y="2" width="1" height="2"/><rect x="16" y="4" width="1" height="1"/><rect x="8" y="5" width="1" height="1"/><rect x="10" y="6" width="3" height="1"/><rect x="14" y="6" width="2" height="1"/><rect x="9" y="8" width="1" height="1"/><rect x="0" y="8" width="2" height="1"/><rect x="3" y="8" width="3" height="1"/><rect x="7" y="8" width="1" height="2"/><rect x="11" y="8" width="2" height="2"/><rect x="15" y="8" width="1" height="1"/><rect x="17" y="8" width="3" height="1"/><rect x="21" y="8" width="2" height="1"/><rect x="24" y="8" width="1" height="2"/><rect x="1" y="10" width="1" height="2"/><rect x="4" y="10" width="2" height="1"/><rect x="8" y="10" width="1" height="3"/><rect x="13" y="10" width="3" height="1"/><rect x="18" y="10" width="1" height="2"/><rect x="20" y="10" width="3" height="1"/><rect x="0" y="12" width="3" height="1"/><rect x="5" y="12" width="2" height="2"/><rect x="10" y="12" width="2" height="1"/><rect x="14" y="12" width="1" height="3"/><rect x="16" y="12" width="3" height="1"/><rect x="22" y="12" width="2" height="2"/><rect x="2" y="14" width="1" height="2"/><rect x="6" y="15" width="3" height="1"/><rect x="11" y="14" width="2" height="2"/><rect x="17" y="14" width="1" height="1"/><rect x="19" y="14" width="3" height="1"/><rect x="24" y="14" width="1" height="3"/><rect x="0" y="16" width="2" height="1"/><rect x="4" y="16" width="1" height="1"/><rect x="9" y="17" width="2" height="1"/><rect x="13" y="16" width="2" height="1"/><rect x="21" y="17" width="1" height="2"/><rect x="8" y="19" width="1" height="2"/><rect x="11" y="19" width="3" height="1"/><rect x="15" y="19" width="1" height="1"/><rect x="22" y="20" width="3" height="1"/><rect x="9" y="22" width="2" height="1"/><rect x="13" y="21" width="1" height="3"/><rect x="15" y="23" width="3" height="1"/><rect x="19" y="22" width="2" height="2"/><rect x="23" y="22" width="1" height="3"/><rect x="10" y="24" width="2" height="1"/><rect x="20" y="24" width="2" height="1"/><rect x="17" y="21" width="1" height="1"/>
</g>
</svg>
</body></html>
